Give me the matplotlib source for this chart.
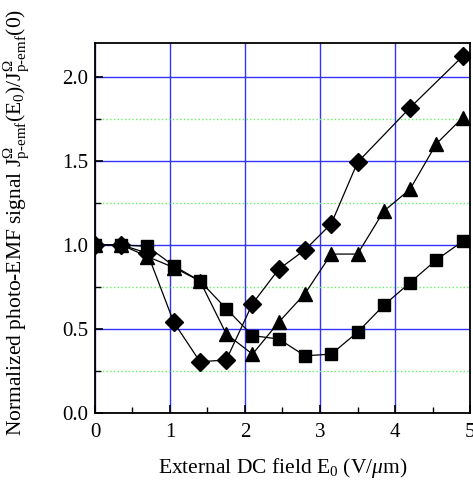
import matplotlib
matplotlib.use('Agg')
import matplotlib.pyplot as plt
from matplotlib.ticker import MultipleLocator

plt.rcParams['font.family'] = ['Liberation Serif', 'DejaVu Serif']
plt.rcParams['mathtext.fontset'] = 'custom'
plt.rcParams['mathtext.rm'] = 'Liberation Serif'
plt.rcParams['mathtext.it'] = 'Liberation Serif:italic'

E0 = [0.0, 0.35, 0.7, 1.05, 1.4, 1.75, 2.1, 2.45, 2.8, 3.15, 3.5, 3.85, 4.2, 4.55, 4.9]
squares = [1.0, 1.0, 0.99, 0.875, 0.785, 0.62, 0.46, 0.44, 0.34, 0.35, 0.48, 0.64, 0.775, 0.91, 1.02]
triangles = [1.0, 1.0, 0.93, 0.865, 0.785, 0.47, 0.35, 0.54, 0.71, 0.945, 0.945, 1.2, 1.33, 1.6, 1.755]
diamonds = [1.0, 1.0, 0.95, 0.54, 0.305, 0.315, 0.65, 0.855, 0.97, 1.125, 1.49, None, 1.815, None, 2.12]

E_d = [e for e, v in zip(E0, diamonds) if v is not None]
d_vals = [v for v in diamonds if v is not None]

fig = plt.figure(figsize=(4.73, 4.88), dpi=100)
ax = fig.add_axes([0.2008, 0.1537, 0.7929, 0.7582])

ax.yaxis.set_minor_locator(MultipleLocator(0.25))
ax.xaxis.set_minor_locator(MultipleLocator(0.5))
ax.grid(which='major', color='#3333ff', linewidth=1.0)
ax.grid(which='minor', axis='y', color='#66ee66', linestyle=':', linewidth=1.0)
ax.set_axisbelow(True)

ax.plot(E0, squares, 'k-', marker='s', markersize=9, linewidth=0.9)
ax.plot(E0, triangles, 'k-', marker='^', markersize=10, linewidth=0.9)
ax.plot(E_d, d_vals, 'k-', marker='D', markersize=9, linewidth=0.9)

ax.set_xlim(0, 5)
ax.set_ylim(0, 2.2)
ax.xaxis.set_major_locator(MultipleLocator(1))
ax.yaxis.set_major_locator(MultipleLocator(0.5))
ax.yaxis.set_major_formatter(matplotlib.ticker.FormatStrFormatter('%.1f'))
ax.tick_params(which='both', direction='in', labelsize=15)
ax.tick_params(which='major', length=6, width=1.2)
ax.tick_params(which='minor', length=4, width=1.0)
ax.tick_params(axis='x', pad=7)
ax.tick_params(axis='y', pad=5)
for s in ax.spines.values():
    s.set_linewidth(1.3)

ax.set_xlabel(r'External DC field E$_0$ (V/$\mu$m)', fontsize=15.5, labelpad=10)
ax.set_ylabel(r'Normalized photo-EMF signal J$^{\Omega}_{\rm p\text{-}emf}$(E$_0$)/J$^{\Omega}_{\rm p\text{-}emf}$(0)',
              fontsize=15.5, labelpad=4)
ax.yaxis.set_label_coords(-0.17, 0.515)

fig.savefig('out.png', dpi=100)
